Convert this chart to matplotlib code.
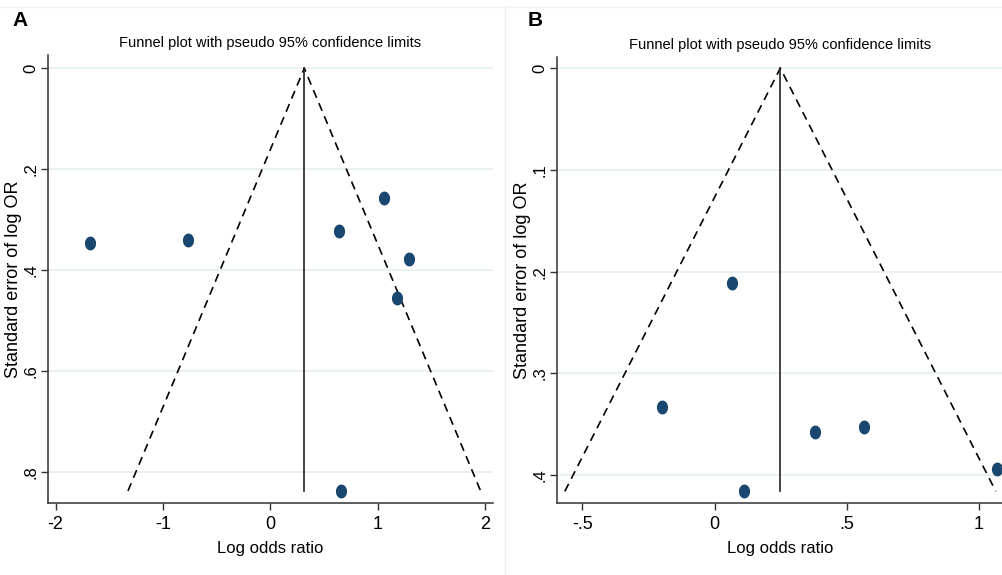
import numpy as np
import matplotlib
matplotlib.use('Agg')
import matplotlib.pyplot as plt
from matplotlib.lines import Line2D
from matplotlib.path import Path

plt.rcParams['font.family'] = ['Liberation Sans Narrow', 'Liberation Sans', 'DejaVu Sans']

# panel A data
log_or_a = [-1.68, -0.77, 0.64, 1.06, 1.29, 1.18, 0.66]
se_a = [0.346, 0.340, 0.322, 0.257, 0.378, 0.455, 0.837]
pooled_a = 0.315
xticks_a = [-2, -1, 0, 1, 2]
xlabels_a = ['-2', '-1', '0', '1', '2']
yticks_a = [0, 0.2, 0.4, 0.6, 0.8]
ylabels_a = ['0', '.2', '.4', '.6', '.8']

# panel B data
log_or_b = [0.065, -0.197, 0.38, 0.566, 0.11, 1.067]
se_b = [0.211, 0.333, 0.358, 0.353, 0.416, 0.394]
pooled_b = 0.249
xticks_b = [-0.5, 0, 0.5, 1]
xlabels_b = ['-.5', '0', '.5', '1']
yticks_b = [0, 0.1, 0.2, 0.3, 0.4]
ylabels_b = ['0', '.1', '.2', '.3', '.4']

dot_color = '#1a476f'
grid_color = '#e6eff2'

# slightly tall oval dots like the stata export
th = np.linspace(0, 2 * np.pi, 40)
oval = Path(np.column_stack([0.78 * np.cos(th), np.sin(th)]), closed=True)


def funnel(ax, x, se, pooled, xt, xl, yt, yl, xlim, ylim, ylab_x):
    semax = max(se)
    ax.plot([pooled - 1.96 * semax, pooled, pooled + 1.96 * semax], [semax, 0, semax],
            color='black', lw=1.2, ls=(0, (5, 3.5)), zorder=2)
    ax.plot([pooled, pooled], [0, semax], color='#222222', lw=1.2, zorder=2)
    ax.plot(x, se, ls='none', marker=oval, color=dot_color, ms=9, mec=dot_color, zorder=3)
    for t in yt:
        ax.axhline(t, color=grid_color, lw=1.2, zorder=1)
    ax.set_xlim(*xlim)
    ax.set_ylim(*ylim)
    ax.set_xticks(xt)
    ax.set_xticklabels(xl, fontsize=13)
    ax.set_yticks(yt)
    ax.set_yticklabels(yl, fontsize=12, rotation=90, va='center')
    ax.tick_params(direction='out', length=5, width=1, color='#333333', pad=4)
    ax.tick_params(axis='y', pad=2)
    for s in ['top', 'right']:
        ax.spines[s].set_visible(False)
    for s in ['left', 'bottom']:
        ax.spines[s].set_color('#333333')
        ax.spines[s].set_linewidth(1.1)
    ax.set_xlabel('Log odds ratio', fontsize=12, labelpad=6)
    ax.set_ylabel('Standard error of log OR', fontsize=13,
                  family=['Liberation Sans', 'DejaVu Sans'])
    ax.yaxis.set_label_coords(ylab_x, 0.5)
    ax.set_title('Funnel plot with pseudo 95% confidence limits', fontsize=10.5, pad=6)


fig = plt.figure(figsize=(10.02, 5.75), dpi=100)

ax1 = fig.add_axes([0.0479, 0.1252, 0.444, 0.779])
funnel(ax1, log_or_a, se_a, pooled_a, xticks_a, xlabels_a, yticks_a, ylabels_a,
       (-2.07, 2.07), (0.861, -0.026), -0.059)

ax2 = fig.add_axes([0.5559, 0.1252, 0.446, 0.7757])
funnel(ax2, log_or_b, se_b, pooled_b, xticks_b, xlabels_b, yticks_b, ylabels_b,
       (-0.596, 1.095), (0.4275, -0.011), -0.059)

# panel separators
fig.add_artist(Line2D([0.504, 0.504], [0, 0.99], transform=fig.transFigure,
                      color='#e8f0f4', lw=1))
fig.add_artist(Line2D([0, 1], [0.988, 0.988], transform=fig.transFigure,
                      color='#f0f4f6', lw=1))

fig.text(0.012, 0.955, 'A', fontsize=15, fontweight='bold', family=['Liberation Sans', 'DejaVu Sans'])
fig.text(0.527, 0.955, 'B', fontsize=15, fontweight='bold', family=['Liberation Sans', 'DejaVu Sans'])

plt.savefig('out.png', dpi=100)
